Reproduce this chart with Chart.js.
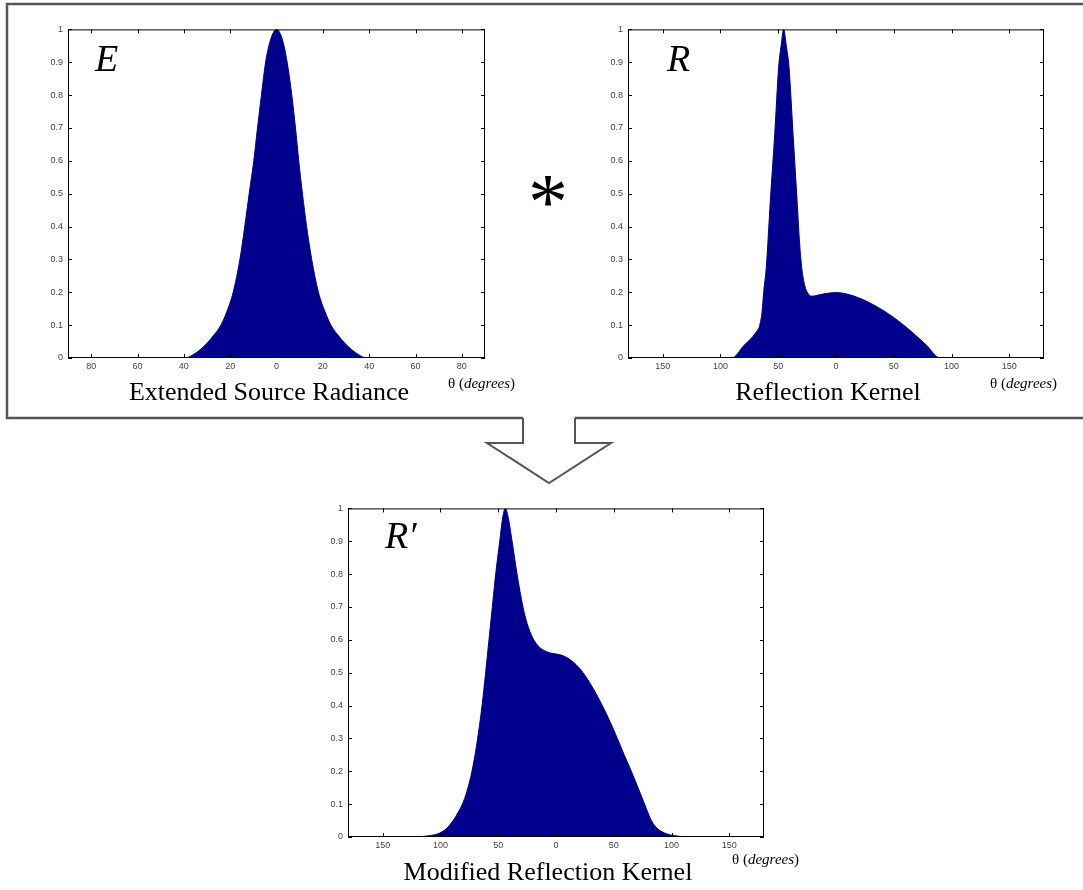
<!DOCTYPE html>
<html>
<head>
<meta charset="utf-8">
<script src="https://cdn.jsdelivr.net/npm/chart.js@4.4.0/dist/chart.umd.min.js"></script>
<style>
  html, body { margin: 0; padding: 0; background: #fff; }
  #stage { position: relative; width: 1083px; height: 890px; overflow: hidden; }
  canvas { position: absolute; }
  svg { position: absolute; left: 0; top: 0; pointer-events: none; }
</style>
</head>
<body>
<div id="stage">
  <canvas id="chartE" width="477" height="359" style="left:18px;top:19px;width:477px;height:359px"></canvas>
  <canvas id="chartR" width="476" height="359" style="left:578px;top:19px;width:476px;height:359px"></canvas>
  <canvas id="chartRp" width="476" height="359" style="left:298px;top:498px;width:476px;height:359px"></canvas>
  <svg width="1083" height="890" viewBox="0 0 1083 890">
    <!-- frame round the two input profiles, opening into the arrow -->
    <polyline points="523,418 7,418 7,4 1100,4" fill="none" stroke="#555" stroke-width="2.5"/>
    <polyline points="575,418 1100,418" fill="none" stroke="#555" stroke-width="2.5"/>
    <polyline points="523,418 523,443 487,443 549,483 611,443 575,443 575,418" fill="none" stroke="#555" stroke-width="2" stroke-linejoin="miter"/>
    <g font-family="Liberation Serif, Times New Roman, serif" fill="#000">
      <text x="95" y="71" font-size="38" font-style="italic">E</text>
      <text x="667" y="71" font-size="38" font-style="italic">R</text>
      <text x="385" y="548" font-size="38" font-style="italic">R′</text>
      <text x="548" y="229" font-size="80" text-anchor="middle">*</text>
      <text x="269" y="400" font-size="26" text-anchor="middle">Extended Source Radiance</text>
      <text x="828" y="400" font-size="26" text-anchor="middle">Reflection Kernel</text>
      <text x="548" y="880" font-size="26" text-anchor="middle">Modified Reflection Kernel</text>
      <text x="448" y="388" font-size="15">θ (<tspan font-style="italic">degrees</tspan>)</text>
      <text x="990" y="388" font-size="15">θ (<tspan font-style="italic">degrees</tspan>)</text>
      <text x="732" y="864" font-size="15">θ (<tspan font-style="italic">degrees</tspan>)</text>
    </g>
  </svg>
</div>
<script>
// Extended source radiance E(θ)
const thetaE = [-90, -39.5, -36, -33, -30, -27, -24, -21.5, -18.7, -15.8, -13.7, -11.8, -9.8, -8.2, -6.5, -4.7, -2.5, 0,
                2.5, 4.6, 6.6, 8.2, 9.6, 11.2, 13.0, 15.2, 18.1, 21, 23.5, 26.5, 29.5, 32.5, 35.5, 38.8, 90];
const valE   = [0, 0, 0.01, 0.025, 0.045, 0.07, 0.1, 0.14, 0.2, 0.3, 0.4, 0.5, 0.6, 0.7, 0.8, 0.9, 0.97, 1,
                0.97, 0.9, 0.8, 0.7, 0.6, 0.5, 0.4, 0.3, 0.2, 0.14, 0.1, 0.07, 0.045, 0.025, 0.01, 0, 0];

// Reflection kernel R(θ)
const thetaR = [-180, -90, -80, -69, -66, -64, -62.6, -60.3, -56.8, -53, -49.6, -47.5, -45.3, -43, -40.7, -37.2, -33.7,
                -31.5, -29.5, -27, -24.5, -21, -16, -11, -5, 0, 9, 20.5, 35, 49.3, 63.7, 78, 90, 180];
const valR   = [0, 0, 0.037, 0.079, 0.1, 0.14, 0.2, 0.277, 0.48, 0.683, 0.886, 0.95, 1, 0.95, 0.886, 0.683, 0.48,
                0.35, 0.27, 0.22, 0.198, 0.188, 0.191, 0.195, 0.198, 0.199, 0.195, 0.182, 0.157, 0.125, 0.085, 0.04, 0, 0];

// Modified reflection kernel R'(θ)
const thetaRp = [-180, -122, -110, -102, -95, -89, -85, -81, -77, -72.7, -67.8, -64, -60.9, -58, -55.1, -52.2, -48.7,
                 -46, -43.8, -41.5, -38, -33.7, -28.6, -25, -20, -15, -10, -5, 0, 5, 10, 15, 20, 23.4, 30, 40.1,
                 46.5, 53.1, 59, 65.2, 71, 76.7, 82.5, 88, 95.5, 105, 115, 180];
const valRp   = [0, 0, 0.004, 0.01, 0.025, 0.05, 0.073, 0.1, 0.14, 0.2, 0.3, 0.4, 0.5, 0.6, 0.7, 0.8, 0.9,
                 0.975, 1, 0.975, 0.9, 0.8, 0.7, 0.65, 0.605, 0.58, 0.567, 0.56, 0.557, 0.553, 0.545, 0.532, 0.515, 0.5, 0.465, 0.4,
                 0.353, 0.3, 0.25, 0.2, 0.15, 0.1, 0.05, 0.025, 0.01, 0.003, 0, 0];

// Axis ticks
const ticksNarrow = [-80, -60, -40, -20, 0, 20, 40, 60, 80];
const ticksWide   = [-150, -100, -50, 0, 50, 100, 150];
const ticksY      = [0, 0.1, 0.2, 0.3, 0.4, 0.5, 0.6, 0.7, 0.8, 0.9, 1];

const NAVY = 'rgb(0,0,140)';
const TICK_LEN = 4;

// Boxed axes with inward tick marks on all four sides
const boxAxes = {
  id: 'boxAxes',
  afterDatasetsDraw(chart) {
    const { ctx, chartArea: a } = chart;
    const xs = chart.scales.x, ys = chart.scales.y;
    ctx.save();
    ctx.strokeStyle = '#000';
    ctx.lineWidth = 1;
    ctx.strokeRect(a.left + 0.5, a.top + 0.5, a.right - a.left - 1, a.bottom - a.top - 1);
    ctx.beginPath();
    xs.ticks.forEach(t => {
      const px = Math.round(xs.getPixelForValue(t.value)) + 0.5;
      ctx.moveTo(px, a.bottom); ctx.lineTo(px, a.bottom - TICK_LEN);
      ctx.moveTo(px, a.top); ctx.lineTo(px, a.top + TICK_LEN);
    });
    ys.ticks.forEach(t => {
      const py = Math.round(ys.getPixelForValue(t.value)) + 0.5;
      ctx.moveTo(a.left, py); ctx.lineTo(a.left + TICK_LEN, py);
      ctx.moveTo(a.right, py); ctx.lineTo(a.right - TICK_LEN, py);
    });
    ctx.stroke();
    ctx.restore();
  }
};

function profileChart(id, theta, values, xTicks, xMax) {
  const tickFont = { family: 'Liberation Sans, Arial, sans-serif', size: 9 };
  return new Chart(document.getElementById(id), {
    type: 'line',
    data: {
      datasets: [{
        data: theta.map((t, i) => ({ x: t, y: values[i] })),
        fill: 'origin',
        backgroundColor: NAVY,
        borderColor: NAVY,
        borderWidth: 1,
        pointRadius: 0,
        cubicInterpolationMode: 'monotone'
      }]
    },
    options: {
      responsive: false,
      animation: false,
      events: [],
      layout: { padding: { top: 10, right: 10, left: 0, bottom: 0 } },
      plugins: { legend: { display: false }, tooltip: { enabled: false } },
      scales: {
        x: {
          type: 'linear', min: -xMax, max: xMax,
          grid: { display: false, drawTicks: false },
          border: { display: false },
          afterBuildTicks: s => { s.ticks = xTicks.map(v => ({ value: v })); },
          afterFit: s => { s.height = 20; },
          ticks: { padding: 3, maxRotation: 0, autoSkip: false, color: '#444', font: tickFont,
                   callback: v => String(Math.abs(v)) }
        },
        y: {
          type: 'linear', min: 0, max: 1,
          grid: { display: false, drawTicks: false },
          border: { display: false },
          afterBuildTicks: s => { s.ticks = ticksY.map(v => ({ value: v })); },
          afterFit: s => { s.width = 50; },
          ticks: { padding: 5, autoSkip: false, color: '#444', font: tickFont,
                   callback: v => String(v) }
        }
      }
    },
    plugins: [boxAxes]
  });
}

profileChart('chartE', thetaE, valE, ticksNarrow, 90);
profileChart('chartR', thetaR, valR, ticksWide, 180);
profileChart('chartRp', thetaRp, valRp, ticksWide, 180);
</script>
</body>
</html>
